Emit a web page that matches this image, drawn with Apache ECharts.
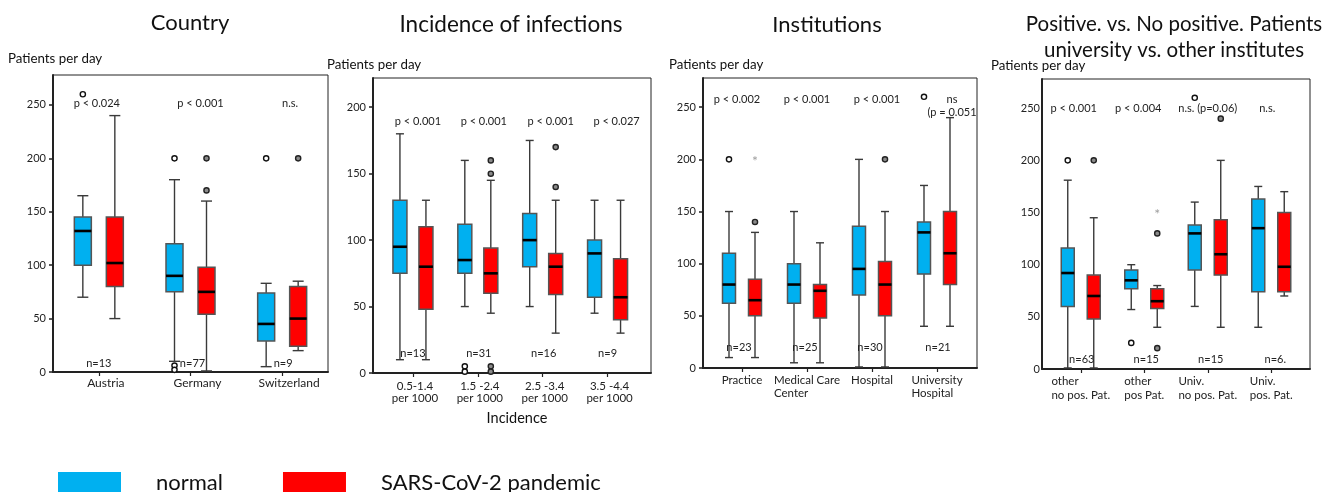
<!DOCTYPE html>
<html>
<head>
<meta charset="utf-8">
<script src="https://cdn.jsdelivr.net/npm/echarts@6/dist/echarts.min.js"></script>
<style>
html,body{margin:0;padding:0;background:#fff;}
#chart{width:1323px;height:492px;}
</style>
</head>
<body>
<div id="chart"></div>
<script>
// ---------------- DATA ----------------
// stats: [min, Q1, median, Q3, max]
const countryCategories = ['Austria', 'Germany', 'Switzerland'];
const countryNormal = [[70, 100, 132, 145, 165], [10, 75, 90, 120, 180], [5, 29, 45, 74, 83]];
const countryPandemic = [[50, 80, 102, 145, 240], [1, 54, 75, 98, 160], [20, 24, 50, 80, 85]];
const countryNormalOutliers = [[0, 260], [1, 200], [1, 6], [1, 2], [2, 200]];
const countryPandemicOutliers = [[1, 200], [1, 170], [2, 200]];
const countryPandemicExtremes = [];
const countryP = ['p < 0.024', 'p < 0.001', 'n.s.'];
const countryN = ['n=13', 'n=77', 'n=9'];

const incidenceCategories = ['0.5-1.4\nper 1000', '1.5 -2.4\nper 1000', '2.5 -3.4\nper 1000', '3.5 -4.4\nper 1000'];
const incidenceNormal = [[10, 75, 95, 130, 180], [50, 75, 85, 112, 160], [50, 80, 100, 120, 175], [45, 57, 90, 100, 130]];
const incidencePandemic = [[10, 48, 80, 110, 130], [45, 60, 75, 94, 145], [30, 59, 80, 90, 130], [30, 40, 57, 86, 130]];
const incidenceNormalOutliers = [[1, 5], [1, 1]];
const incidencePandemicOutliers = [[1, 160], [1, 150], [1, 5], [1, 1], [2, 170], [2, 140]];
const incidencePandemicExtremes = [];
const incidenceP = ['p < 0.001', 'p < 0.001', 'p < 0.001', 'p < 0.027'];
const incidenceN = ['n=13', 'n=31', 'n=16', 'n=9'];

const institutionCategories = ['Practice', 'Medical Care\nCenter', 'Hospital', 'University\nHospital'];
const institutionNormal = [[10, 62, 80, 110, 150], [5, 62, 80, 100, 150], [1, 70, 95, 136, 200], [40, 90, 130, 140, 175]];
const institutionPandemic = [[10, 50, 65, 85, 130], [5, 48, 74, 80, 120], [1, 50, 80, 102, 150], [40, 80, 110, 150, 240]];
const institutionNormalOutliers = [[0, 200], [3, 260]];
const institutionPandemicOutliers = [[0, 140], [2, 200]];
const institutionPandemicExtremes = [[0, 200]];
const institutionP = ['p < 0.002', 'p < 0.001', 'p < 0.001', 'ns\n(p = 0.051'];
const institutionN = ['n=23', 'n=25', 'n=30', 'n=21'];

const positiveCategories = ['other\nno pos. Pat.', 'other\npos Pat.', 'Univ.\nno pos. Pat.', 'Univ.\npos. Pat.'];
const positiveNormal = [[1, 60, 92, 116, 181], [57, 77, 85, 95, 100], [60, 95, 130, 138, 160], [40, 74, 135, 163, 175]];
const positivePandemic = [[1, 48, 70, 90, 145], [40, 58, 65, 77, 80], [40, 90, 110, 143, 200], [70, 74, 98, 150, 170]];
const positiveNormalOutliers = [[0, 200], [1, 25], [2, 260]];
const positivePandemicOutliers = [[0, 200], [1, 130], [1, 20], [2, 240]];
const positivePandemicExtremes = [[1, 150]];
const positiveP = ['p < 0.001', 'p < 0.004', 'n.s. (p=0.06)', 'n.s.'];
const positiveN = ['n=63', 'n=15', 'n=15', 'n=6.'];

const yTicksFull = [0, 50, 100, 150, 200, 250];
const yTicksIncidence = [0, 50, 100, 150, 200];

const panelTitles = ['Country', 'Incidence of infections', 'Institutions', 'Positive. vs. No positive. Patients\nuniversity vs. other institutes'];
const yAxisName = 'Patients per day';
const seriesNames = ['normal', 'SARS-CoV-2 pandemic'];

// ---------------- LAYOUT / STYLE ----------------
const FONT = 'Lato, "Open Sans", sans-serif';
const BLUE = '#00B0F0';
const RED = '#FF0000';

const panelData = [
  {cats: countryCategories, normal: countryNormal, pandemic: countryPandemic, nOut: countryNormalOutliers, pOut: countryPandemicOutliers, pExt: countryPandemicExtremes, pLab: countryP, nLab: countryN, ticks: yTicksFull},
  {cats: incidenceCategories, normal: incidenceNormal, pandemic: incidencePandemic, nOut: incidenceNormalOutliers, pOut: incidencePandemicOutliers, pExt: incidencePandemicExtremes, pLab: incidenceP, nLab: incidenceN, ticks: yTicksIncidence},
  {cats: institutionCategories, normal: institutionNormal, pandemic: institutionPandemic, nOut: institutionNormalOutliers, pOut: institutionPandemicOutliers, pExt: institutionPandemicExtremes, pLab: institutionP, nLab: institutionN, ticks: yTicksFull},
  {cats: positiveCategories, normal: positiveNormal, pandemic: positivePandemic, nOut: positiveNormalOutliers, pOut: positivePandemicOutliers, pExt: positivePandemicExtremes, pLab: positiveP, nLab: positiveN, ticks: yTicksFull}
];

const panelLayout = [
  {frame: {left: 53, top: 75, width: 275, height: 297}, inner: {left: 53, width: 275}, yMax: 278,
   off: 16, boxW: 17, capW: 11, pLevel: 252, nLevel: 8.5, pShift: [-2, 10, 8], nShift: [0, 2, 1],
   tickShow: true, labelMargin: 7, catStyle: 'single', catMargin: 5, catFont: 12, catLH: 13, catPad: [0, 0, 0, 14],
   titleX: 190, titleY: 23, titleFont: 22, nameX: 8, nameY: 60},
  {frame: {left: 373, top: 78, width: 278, height: 295}, inner: {left: 380.5, width: 259.5}, yMax: 222,
   off: 13, boxW: 14, capW: 8, pLevel: 189.5, nLevel: 15, pShift: [5, 6, 8, 9], nShift: [0, 1, 1, 0],
   tickShow: true, labelMargin: 7, catStyle: 'center', catMargin: 7, catFont: 11.5, catLH: 12, catPad: [0, 0, 0, 4],
   titleX: 511, titleY: 25, titleFont: 22.5, nameX: 327, nameY: 66},
  {frame: {left: 703, top: 78, width: 274, height: 290}, inner: {left: 709.5, width: 260}, yMax: 278,
   off: 13, boxW: 13, capW: 8, pLevel: 258, nLevel: 20.5, pShift: [-5, 0, 5, 15], nShift: [-3, -2, -2, 1],
   tickShow: true, labelMargin: 7, catStyle: 'left', catMargin: 6, catFont: 11.5, catLH: 13, catPad: [0, 0, 0, 0],
   titleX: 827, titleY: 25, titleFont: 22, nameX: 669, nameY: 66},
  {frame: {left: 1042, top: 79, width: 268, height: 290}, inner: {left: 1049, width: 254}, yMax: 278,
   off: 13, boxW: 13, capW: 8, pLevel: 250, nLevel: 9.5, pShift: [-7, -6, 0, -4], nShift: [1, 2, 3, 4],
   tickShow: false, labelMargin: 2, catStyle: 'left', catMargin: 5, catFont: 11.5, catLH: 14, catPad: [0, 0, 0, 0],
   titleX: 1174, titleY: 37, titleFont: 20.5, nameX: 991, nameY: 67}
];

// ---------------- RENDERERS ----------------
function boxRenderer(off, boxW, capW, fill) {
  return function (params, api) {
    const cat = api.value(0);
    const mn = api.value(1), q1 = api.value(2), md = api.value(3), q3 = api.value(4), mx = api.value(5);
    const cx = api.coord([cat, 0])[0] + off;
    const y = v => api.coord([cat, v])[1];
    const h = boxW / 2, c = capW / 2;
    const wStyle = {stroke: '#3a3a3a', lineWidth: 1.4};
    return {
      type: 'group',
      children: [
        {type: 'line', shape: {x1: cx, y1: y(mn), x2: cx, y2: y(q1)}, style: wStyle},
        {type: 'line', shape: {x1: cx, y1: y(q3), x2: cx, y2: y(mx)}, style: wStyle},
        {type: 'line', shape: {x1: cx - c, y1: y(mn), x2: cx + c, y2: y(mn)}, style: wStyle},
        {type: 'line', shape: {x1: cx - c, y1: y(mx), x2: cx + c, y2: y(mx)}, style: wStyle},
        {type: 'rect', shape: {x: cx - h, y: y(q3), width: boxW, height: y(q1) - y(q3)},
         style: {fill: fill, stroke: '#555', lineWidth: 1.5}},
        {type: 'line', shape: {x1: cx - h, y1: y(md), x2: cx + h, y2: y(md)}, style: {stroke: '#000', lineWidth: 2.6}}
      ]
    };
  };
}
function outlierRenderer(off, fill, stroke) {
  return function (params, api) {
    const p = api.coord([api.value(0), api.value(1)]);
    return {type: 'circle', shape: {cx: p[0] + off, cy: p[1], r: 2.6}, style: {fill: fill, stroke: stroke, lineWidth: 1.4}};
  };
}
function starRenderer(off) {
  return function (params, api) {
    const p = api.coord([api.value(0), api.value(1)]);
    return {type: 'text', x: p[0] + off, y: p[1] + 2,
      style: {text: '*', fill: '#a0a0a0', font: '14px ' + FONT, align: 'center', verticalAlign: 'middle'}};
  };
}
function textRenderer(texts, shifts) {
  return function (params, api) {
    const i = params.dataIndex;
    const p = api.coord([api.value(0), api.value(1)]);
    return {type: 'text', x: p[0] + shifts[i], y: p[1] - 6,
      style: {text: texts[i], fill: '#222', font: '11px ' + FONT, align: 'center', verticalAlign: 'top', lineHeight: 13}};
  };
}

// ---------------- OPTION ----------------
const grids = [], xAxes = [], yAxes = [], series = [], graphics = [];

panelData.forEach((d, k) => {
  const L = panelLayout[k];
  const fi = 2 * k, di = 2 * k + 1;
  grids.push({left: L.frame.left, top: L.frame.top, width: L.frame.width, height: L.frame.height,
    show: true, borderColor: '#222', borderWidth: 1, backgroundColor: 'transparent', containLabel: false, outerBoundsMode: 'none'});
  grids.push({left: L.inner.left, top: L.frame.top, width: L.inner.width, height: L.frame.height,
    show: false, containLabel: false, outerBoundsMode: 'none'});

  xAxes.push({gridIndex: fi, type: 'value', min: 0, max: 1,
    axisLine: {show: true, onZero: false, lineStyle: {color: '#222', width: 2}},
    axisTick: {show: false}, axisLabel: {show: false}, splitLine: {show: false}});
  let catLabel = {
    fontFamily: FONT, fontSize: L.catFont, color: '#222', margin: L.catMargin, lineHeight: L.catLH,
    padding: L.catPad, interval: 0
  };
  if (L.catStyle === 'left') {
    catLabel.formatter = v => v.split('\n').map(s => '{l|' + s + '}').join('\n');
    catLabel.rich = {l: {align: 'left', fontFamily: FONT, fontSize: L.catFont, color: '#222', lineHeight: L.catLH}};
  }
  xAxes.push({gridIndex: di, type: 'category', data: d.cats, boundaryGap: true,
    axisLine: {show: false},
    axisTick: {show: true, alignWithLabel: true, length: 4, lineStyle: {color: '#222', width: 1.2}},
    axisLabel: catLabel, splitLine: {show: false}});

  yAxes.push({gridIndex: fi, type: 'value', min: 0, max: L.yMax,
    axisLine: {show: true, onZero: false, lineStyle: {color: '#222', width: 2}},
    axisTick: {show: L.tickShow, length: 4, inside: false, customValues: d.ticks, lineStyle: {color: '#222', width: 1.5}},
    axisLabel: {customValues: d.ticks, fontFamily: FONT, fontSize: 11, color: '#222', margin: L.labelMargin,
      padding: k === 3 ? [8, 0, 0, 0] : 0},
    splitLine: {show: false}});
  yAxes.push({gridIndex: di, type: 'value', min: 0, max: L.yMax, show: false});

  const ax = {xAxisIndex: di, yAxisIndex: di};
  series.push(Object.assign({type: 'custom', name: seriesNames[0], itemStyle: {color: BLUE}, clip: false,
    renderItem: boxRenderer(-L.off, L.boxW, L.capW, BLUE),
    data: d.normal.map((s, i) => [i].concat(s))}, ax));
  series.push(Object.assign({type: 'custom', name: seriesNames[1], itemStyle: {color: RED}, clip: false,
    renderItem: boxRenderer(L.off, L.boxW, L.capW, RED),
    data: d.pandemic.map((s, i) => [i].concat(s))}, ax));
  series.push(Object.assign({type: 'custom', name: seriesNames[0], itemStyle: {color: BLUE}, clip: false,
    renderItem: outlierRenderer(-L.off, '#fff', '#111'), data: d.nOut}, ax));
  series.push(Object.assign({type: 'custom', name: seriesNames[1], itemStyle: {color: RED}, clip: false,
    renderItem: outlierRenderer(L.off, '#8a8a8a', '#222'), data: d.pOut}, ax));
  if (d.pExt.length) {
    series.push(Object.assign({type: 'custom', name: seriesNames[1], itemStyle: {color: RED}, clip: false,
      renderItem: starRenderer(L.off), data: d.pExt}, ax));
  }
  series.push(Object.assign({type: 'custom', silent: true, clip: false,
    renderItem: textRenderer(d.pLab, L.pShift), data: d.pLab.map((t, i) => [i, L.pLevel])}, ax));
  series.push(Object.assign({type: 'custom', silent: true, clip: false,
    renderItem: textRenderer(d.nLab, L.nShift), data: d.nLab.map((t, i) => [i, L.nLevel])}, ax));

  graphics.push({type: 'text', left: L.nameX, top: L.nameY - 8,
    style: {text: yAxisName, font: '13.3px ' + FONT, fill: '#111'}});
  graphics.push({type: 'text', x: L.titleX, y: L.titleY,
    style: {text: panelTitles[k], font: L.titleFont + 'px ' + FONT, fill: '#111', align: 'center', verticalAlign: 'middle', lineHeight: 26}});
});

graphics.push({type: 'text', x: 517, y: 418,
  style: {text: 'Incidence', font: '14.5px ' + FONT, fill: '#111', align: 'center', verticalAlign: 'middle'}});

const option = {
  animation: false,
  backgroundColor: '#fff',
  legend: {
    data: seriesNames, left: 58, top: 472, orient: 'horizontal', padding: 0,
    icon: 'rect', itemWidth: 63, itemHeight: 22, itemGap: 60,
    textStyle: {fontFamily: FONT, fontSize: 22, color: '#111', padding: [0, 0, 0, 30]},
    selectedMode: false
  },
  grid: grids,
  xAxis: xAxes,
  yAxis: yAxes,
  series: series,
  graphic: graphics
};

const chart = echarts.init(document.getElementById('chart'), null, {renderer: 'canvas'});
chart.setOption(option);
</script>
</body>
</html>
